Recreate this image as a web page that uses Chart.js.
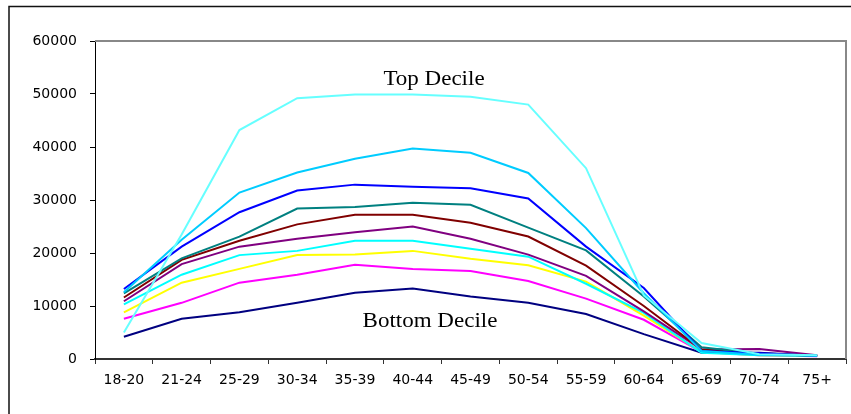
<!DOCTYPE html>
<html lang="en">
<head>
    <meta charset="UTF-8">
    <title>Income by Age and Decile</title>
    <style>
        body {
            margin: 0;
            background-color: #fff;
        }
        #wrap {
            position: relative;
            width: 851px;
            height: 414px;
        }
    </style>
</head>
<body>
    <div id="wrap"><canvas id="decileChart" width="851" height="414"></canvas></div>

    <script src="https://cdn.jsdelivr.net/npm/chart.js"></script>
    <script>
        const ageGroups = ['18-20', '21-24', '25-29', '30-34', '35-39', '40-44', '45-49', '50-54', '55-59', '60-64', '65-69', '70-74', '75+'];
        const yTicks = [0, 10000, 20000, 30000, 40000, 50000, 60000];

        // one array per decile, bottom to top
        const decile1 = [4200, 7600, 8800, 10600, 12500, 13300, 11800, 10600, 8500, 4700, 1200, 1200, 600];
        const decile2 = [7600, 10600, 14400, 15900, 17800, 17000, 16600, 14700, 11400, 7400, 1300, 700, 500];
        const decile3 = [8800, 14400, 17000, 19600, 19700, 20400, 18900, 17700, 14600, 8200, 1300, 700, 600];
        const decile4 = [10300, 15900, 19600, 20400, 22300, 22300, 20800, 19300, 14200, 8700, 1200, 700, 600];
        const decile5 = [10900, 17900, 21200, 22700, 23900, 25000, 22700, 19700, 15700, 9000, 1800, 1900, 700];
        const decile6 = [11600, 18700, 22300, 25400, 27200, 27200, 25700, 23100, 17600, 10000, 1800, 1000, 600];
        const decile7 = [12400, 19000, 23100, 28400, 28700, 29500, 29100, 24800, 20500, 11800, 2200, 1000, 600];
        const decile8 = [13200, 21200, 27700, 31800, 32900, 32500, 32200, 30300, 21200, 13400, 1500, 1100, 600];
        const decile9 = [12600, 22500, 31400, 35200, 37800, 39700, 38900, 35100, 24700, 12400, 1500, 800, 600];
        const decile10 = [5000, 23500, 43200, 49200, 49900, 49900, 49500, 48000, 36000, 12000, 3000, 900, 700];

        // first dataset is drawn on top, so the top decile goes first
        const series = [
            { data: decile10, color: '#66FFFF' },
            { data: decile9, color: '#00CCFF' },
            { data: decile8, color: '#0000FF' },
            { data: decile7, color: '#008080' },
            { data: decile6, color: '#800000' },
            { data: decile5, color: '#800080' },
            { data: decile4, color: '#00FFFF' },
            { data: decile3, color: '#FFFF00' },
            { data: decile2, color: '#FF00FF' },
            { data: decile1, color: '#000080' }
        ];

        const framePlugin = {
            id: 'frame',
            beforeDraw(chart) {
                const ctx = chart.ctx;
                ctx.save();
                ctx.fillStyle = '#fff';
                ctx.fillRect(0, 0, chart.width, chart.height);
                ctx.strokeStyle = '#111';
                ctx.lineWidth = 1.5;
                ctx.beginPath();
                ctx.moveTo(9, chart.height);
                ctx.lineTo(9, 6.5);
                ctx.lineTo(chart.width, 6.5);
                ctx.stroke();
                ctx.restore();
            },
            afterDraw(chart) {
                const a = chart.chartArea;
                const ctx = chart.ctx;
                ctx.save();
                ctx.strokeStyle = '#888';
                ctx.lineWidth = 2;
                ctx.beginPath();
                ctx.moveTo(a.left, a.top);
                ctx.lineTo(a.right, a.top);
                ctx.lineTo(a.right, a.bottom);
                ctx.stroke();

                // annotations
                ctx.fillStyle = '#000';
                ctx.font = '20px "Liberation Serif", "Times New Roman", serif';
                ctx.textAlign = 'center';
                ctx.textBaseline = 'alphabetic';
                const put = (txt, x, y) => {
                    ctx.save();
                    ctx.translate(x, y);
                    ctx.scale(1.15, 1);
                    ctx.fillText(txt, 0, 0);
                    ctx.restore();
                };
                put('Top Decile', 434, 85);
                put('Bottom Decile', 430, 327);
                ctx.restore();
            }
        };

        const ctx = document.getElementById('decileChart').getContext('2d');
        new Chart(ctx, {
            type: 'line',
            data: {
                labels: ageGroups,
                datasets: series.map((s, i) => ({
                    label: 'Decile ' + (10 - i),
                    data: s.data,
                    borderColor: s.color,
                    backgroundColor: s.color,
                    borderWidth: 2,
                    pointRadius: 0,
                    tension: 0,
                    fill: false
                }))
            },
            options: {
                responsive: false,
                animation: false,
                layout: {
                    padding: { top: 41, right: 5, left: 0, bottom: 0 }
                },
                plugins: {
                    legend: { display: false },
                    tooltip: { enabled: false }
                },
                scales: {
                    x: {
                        offset: true,
                        grid: {
                            offset: true,
                            drawOnChartArea: false,
                            drawTicks: true,
                            tickLength: 5,
                            color: '#333'
                        },
                        border: { display: true, color: '#333', width: 2 },
                        ticks: {
                            color: '#000',
                            maxRotation: 0,
                            autoSkip: false,
                            padding: 8,
                            font: { family: '"DejaVu Sans", Arial, sans-serif', size: 14 }
                        },
                        afterFit(scale) { scale.height = 55; }
                    },
                    y: {
                        min: 0,
                        max: 60000,
                        afterBuildTicks(scale) {
                            scale.ticks = yTicks.map(v => ({ value: v }));
                        },
                        grid: {
                            drawOnChartArea: false,
                            drawTicks: true,
                            tickLength: 5,
                            color: '#000'
                        },
                        border: { display: true, color: '#000', width: 1 },
                        ticks: {
                            color: '#000',
                            padding: 13,
                            callback: v => String(v),
                            font: { family: '"DejaVu Sans", Arial, sans-serif', size: 14 }
                        },
                        afterFit(scale) { scale.width = 95; }
                    }
                }
            },
            plugins: [framePlugin]
        });
    </script>
</body>
</html>
